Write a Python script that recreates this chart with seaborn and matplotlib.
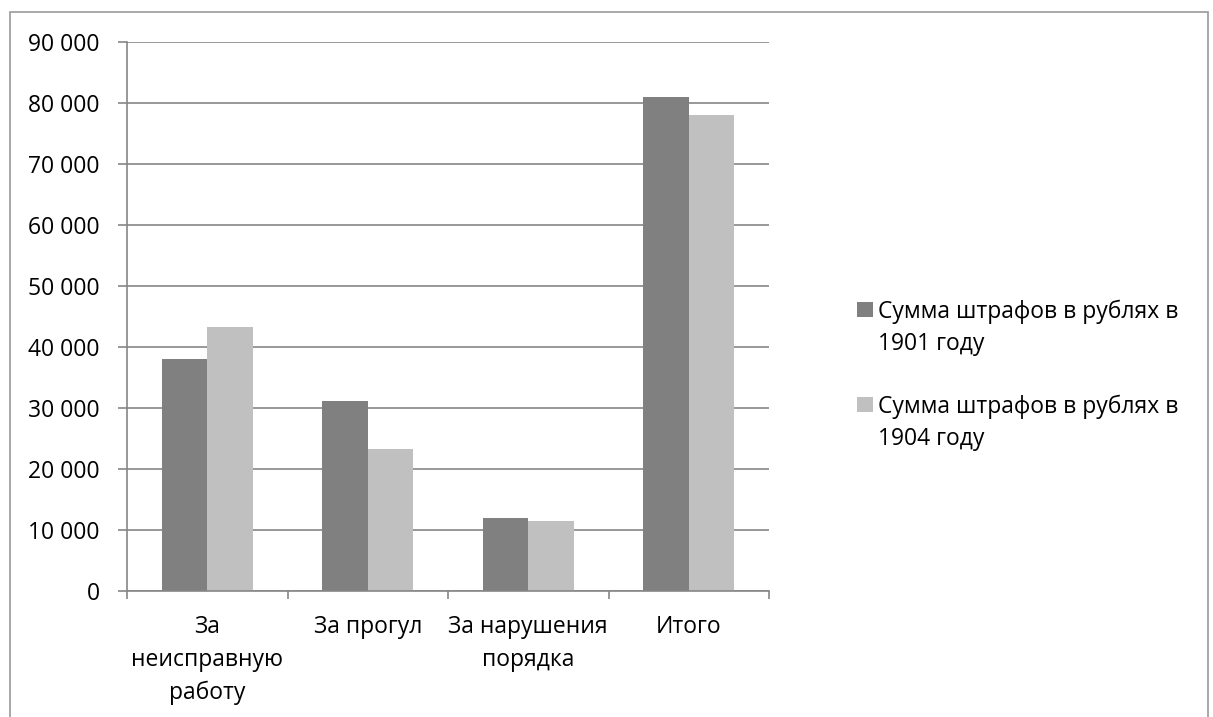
import matplotlib
matplotlib.use("Agg")
import matplotlib.pyplot as plt
import matplotlib.ticker as mticker
from matplotlib.patches import Rectangle
import pandas as pd
import seaborn as sns

categories = ["За\nнеисправную\nработу", "За прогул", "За нарушения\nпорядка", "Итого"]
series_names = ["Сумма штрафов в рублях в\n1901 году", "Сумма штрафов в рублях в\n1904 году"]
fines_1901 = [38000, 31100, 11900, 81000]
fines_1904 = [43300, 23200, 11500, 78000]
y_ticks = list(range(0, 90001, 10000))

colors = ["#808080", "#c0c0c0"]
grid_color = "#868686"
FS = 16.5

df = pd.DataFrame({
    "category": categories * 2,
    "series": [series_names[0]] * 4 + [series_names[1]] * 4,
    "value": fines_1901 + fines_1904,
})

sns.set_style("white")
plt.rcParams["font.family"] = ["Open Sans", "DejaVu Sans"]

W, H = 1213, 717
fig = plt.figure(figsize=(W / 100, H / 100), dpi=100)
ax = fig.add_axes([127 / W, (H - 591) / H, (769 - 127) / W, (591 - 42) / H])

sns.barplot(
    data=df, x="category", y="value", hue="series", order=categories,
    hue_order=series_names, palette=colors, width=0.567, saturation=1,
    edgecolor="none", ax=ax, legend=False,
)

ax.set_ylim(0, 90000)
ax.set_xlim(-0.5, 3.5)
ax.set_yticks(y_ticks)
ax.yaxis.set_major_formatter(mticker.FuncFormatter(lambda v, _: f"{int(v):,}".replace(",", " ")))
ax.yaxis.grid(True, color=grid_color, linewidth=1.2)
ax.set_axisbelow(True)
ax.set_xlabel("")
ax.set_ylabel("")

for side in ["top", "right"]:
    ax.spines[side].set_visible(False)
for side in ["left", "bottom"]:
    ax.spines[side].set_color(grid_color)
    ax.spines[side].set_linewidth(1.2)

ax.tick_params(axis="y", left=True, length=6.5, width=1.2, color=grid_color,
               labelsize=FS, pad=13, labelcolor="black")
ax.set_xticks(range(len(categories)))
ax.set_xticklabels(categories, fontsize=FS, linespacing=1.5)
ax.tick_params(axis="x", bottom=False, length=0, pad=17, labelcolor="black")
ax.set_xticks([i - 0.5 for i in range(len(categories) + 1)], minor=True)
ax.tick_params(axis="x", which="minor", bottom=True, length=6, width=1.2, color=grid_color)

# legend, Excel style: square aligned with the first text line
for i, (name, c) in enumerate(zip(series_names, colors)):
    top = 302 + i * 95
    fig.patches.append(Rectangle((857 / W, 1 - (top + 15) / H), 16 / W, 15 / H,
                                 transform=fig.transFigure, facecolor=c, edgecolor="none"))
    fig.text(878 / W, 1 - (top - 2) / H, name, fontsize=FS, va="top", ha="left",
             linespacing=1.45, color="black")

# outer chart border
fig.patches.append(Rectangle((10 / W, -0.05), (1208 - 10) / W, 1.05 - 12 / H,
                             transform=fig.transFigure, fill=False,
                             edgecolor="#9a9a9a", linewidth=1.2))

fig.savefig("out.png", dpi=100)
